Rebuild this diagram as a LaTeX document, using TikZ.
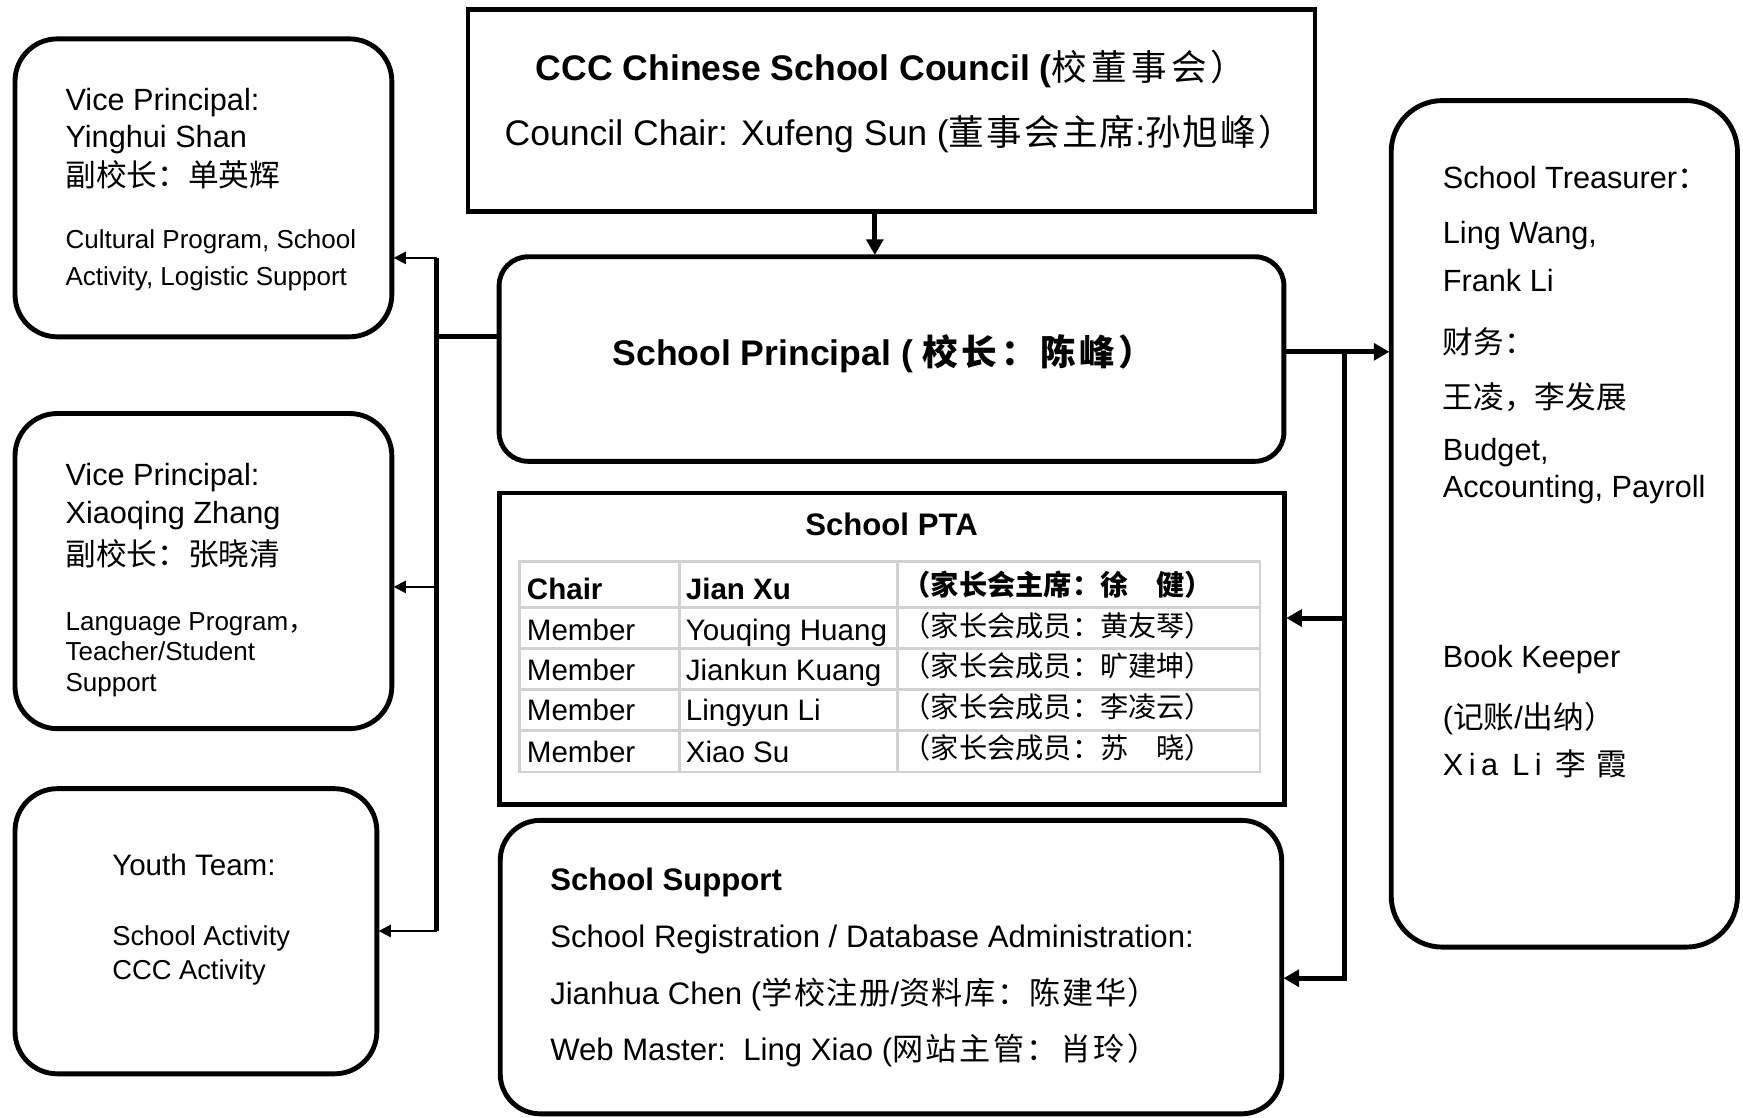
\documentclass[tikz,border=0pt]{standalone}
\usepackage{fontspec}
\setmainfont{Liberation Sans}
\newfontfamily\cjk{Noto Sans CJK SC}
\newfontfamily\cjkwide{Noto Sans CJK SC}[LetterSpace=10]
\newfontfamily\cjkmid{Noto Sans CJK SC}[LetterSpace=5]
\usetikzlibrary{arrows.meta,fit}
\newcommand\fz[1]{\fontsize{#1}{#1}\selectfont}
\begin{document}
\begin{tikzpicture}[x=0.5pt,y=-0.5pt,
  frame/.style={draw, line width=2.2pt, inner sep=0pt, outer sep=0pt},
  rframe/.style={frame, rounded corners=#1},
  txt/.style={anchor=base west, inner sep=0pt, outer sep=0pt},
  bus/.style={line width=2.2pt, line join=miter},
  thinbus/.style={line width=0.9pt},
  arr/.style={-{Triangle[length=7pt,width=7.5pt]}, shorten >=0.8pt},
  tarr/.style={-{Triangle[length=5.5pt,width=5.5pt]}, shorten >=0.8pt},
  tgrid/.style={draw=black!18, line width=1.3pt},
  big/.style={font=\fz{16}},
  main/.style={font=\fz{13.8}},
  small/.style={font=\fz{11.7}},
  tab/.style={font=\fz{13.3}},
  tabcjk/.style={font=\fz{12.7}\cjk}
]
\useasboundingbox[fill=white] (0,0) rectangle (1568,1005);

% ---------- boxes ----------
\node[frame, fit={(421,8.5) (1183,190.5)}] (council) {};
\node[rframe=13pt, fit={(449,231) (1155,415)}] (prin) {};
\node[frame, fit={(449,443.5) (1155.5,723.5)}] (pta) {};
\node[rframe=18pt, fit={(450,738) (1153,1002)}] (supp) {};
\node[rframe=19pt, fit={(13.5,35) (352.5,303)}] (vp1) {};
\node[rframe=19pt, fit={(13.5,372) (352.5,655.5)}] (vp2) {};
\node[rframe=19pt, fit={(13.5,709.5) (339,966)}] (youth) {};
\node[rframe=23pt, fit={(1251.5,90.5) (1563,852)}] (treas) {};

% ---------- council ----------
\node[txt, font=\fz{16}\bfseries] (cct) at (482,72) {CCC Chinese School Council ({\cjkwide\mdseries\addfontfeature{LetterSpace=12}校董事会）}};
\node[txt, big] (ccc) at (454,130.5) {Council Chair: Xufeng Sun ({\cjkwide\addfontfeature{LetterSpace=6}董事会主席}:{\cjkwide\addfontfeature{LetterSpace=6}孙旭峰）}};

% ---------- principal ----------
\node[txt, font=\fz{16}\bfseries] (prt) at (551,328.5) {School Principal ( {\cjkwide 校长：陈峰）}};

% ---------- vice principal 1 ----------
\node[txt, main] (v1a) at (59,99) {Vice Principal:};
\node[txt, main] (v1b) at (59,132.5) {Yinghui Shan};
\node[txt, main] (v1c) at (59,168) {\cjk 副校长：单英辉};
\node[txt, small] (v1d) at (59,223.5) {Cultural Program, School};
\node[txt, small] (v1e) at (59,256.5) {Activity, Logistic Support};

% ---------- vice principal 2 ----------
\node[txt, main] (v2a) at (59,436.5) {Vice Principal:};
\node[txt, main] (v2b) at (59,471) {Xiaoqing Zhang};
\node[txt, main] (v2c) at (59,508.5) {\cjk 副校长：张晓清};
\node[txt, small] (v2d) at (59,567) {Language Program{\cjk ，}};
\node[txt, small] (v2e) at (59,594) {Teacher/Student};
\node[txt, small] (v2f) at (59,622.5) {Support};

% ---------- youth ----------
\node[txt, font=\fz{13.3}] (ya) at (101,787.5) {Youth Team:};
\node[txt, font=\fz{12.3}] (yb) at (101,850.5) {School Activity};
\node[txt, font=\fz{12.3}] (yc) at (101,881.5) {CCC Activity};

% ---------- treasurer ----------
\node[txt, main] (t1) at (1298,169.5) {School Treasurer{\cjk ：}};
\node[txt, main] (t2) at (1298,219) {Ling Wang,};
\node[txt, main] (t3) at (1298,262.5) {Frank Li};
\node[txt, main] (t4) at (1298,318) {\cjk 财务：};
\node[txt, main] (t5) at (1298,367.5) {\cjk 王凌，李发展};
\node[txt, main] (t6) at (1298,414) {Budget,};
\node[txt, main] (t7) at (1298,447.5) {Accounting, Payroll};
\node[txt, main] (t8) at (1298,600.5) {Book Keeper};
\node[txt, main] (t9) at (1298,655) {({\cjk 记账}/{\cjk 出纳）}};
\node[txt, main] (t10) at (1298,697.5) {{\addfontfeature{LetterSpace=18}Xia Li}\hspace{6pt}{\cjk 李\hspace{5pt}霞}};

% ---------- PTA ----------
\node[txt, font=\fz{14}\bfseries] (ptat) at (724.5,481.5) {School PTA};
\draw[tgrid] (467.5,505.5) rectangle (1133.5,694.5);
\foreach \yy in {546.5,583.5,620.5,657.5} \draw[tgrid] (467.5,\yy) -- (1133.5,\yy);
\foreach \xx in {611,807.5} \draw[tgrid] (\xx,505.5) -- (\xx,694.5);

\node[txt, tab, font=\fz{13.3}\bfseries] (r1a) at (474,539.5) {Chair};
\node[txt, tab, font=\fz{13.3}\bfseries] (r1b) at (617,539.5) {Jian Xu};
\node[txt, tabcjk, font=\fz{12.7}\cjk\bfseries] (r1c) at (812,536) {（家长会主席：徐　健）};
\node[txt, tab] (r2a) at (474,576) {Member};
\node[txt, tab] (r2b) at (617,576) {Youqing Huang};
\node[txt, tabcjk] (r2c) at (812,573) {（家长会成员：黄友琴）};
\node[txt, tab] (r3a) at (474,612) {Member};
\node[txt, tab] (r3b) at (617,612) {Jiankun Kuang};
\node[txt, tabcjk] (r3c) at (812,609) {（家长会成员：旷建坤）};
\node[txt, tab] (r4a) at (474,648.5) {Member};
\node[txt, tab] (r4b) at (617,648.5) {Lingyun Li};
\node[txt, tabcjk] (r4c) at (812,645.5) {（家长会成员：李凌云）};
\node[txt, tab] (r5a) at (474,685.5) {Member};
\node[txt, tab] (r5b) at (617,685.5) {Xiao Su};
\node[txt, tabcjk] (r5c) at (812,682.5) {（家长会成员：苏　晓）};

% ---------- school support ----------
\node[txt, font=\fz{14}\bfseries] (s1) at (495,801.5) {School Support};
\node[txt, font=\fz{14}] (s2) at (495,852) {School Registration / Database Administration:};
\node[txt, font=\fz{14}] (s3) at (495,903.5) {Jianhua Chen ({\cjkmid 学校注册}/{\cjkmid 资料库：陈建华）}};
\node[txt, font=\fz{14}] (s4) at (495,954) {Web Master:\ \ Ling Xiao ({\cjkmid\addfontfeature{LetterSpace=8}网站主管：肖玲）}};

% ---------- connectors ----------
\coordinate (ax) at (787,200);
\draw[bus,arr] (council.south -| ax) -- (prin.north -| ax);

\coordinate (lt) at (393,232);
\coordinate (lj) at (393,303);
\coordinate (l2) at (393,528);
\coordinate (lb) at (393,837.5);
\draw[bus] (prin.west |- lj) -- (lj);
\draw[bus] (lt) -- (lb);
\draw[thinbus,tarr] (lt) -- (vp1.east |- lt);
\draw[thinbus,tarr] (l2) -- (vp2.east |- l2);
\draw[thinbus,tarr] (lb) -- (youth.east |- lb);

\coordinate (rj) at (1209.5,316.5);
\coordinate (r2) at (1209.5,556);
\coordinate (rb) at (1209.5,880);
\draw[bus,arr] (prin.east |- rj) -- (treas.west |- rj);
\draw[bus,arr] (rj) -- (rb) -- (supp.east |- rb);
\draw[bus,arr] (r2) -- (pta.east |- r2);
\end{tikzpicture}
\end{document}
